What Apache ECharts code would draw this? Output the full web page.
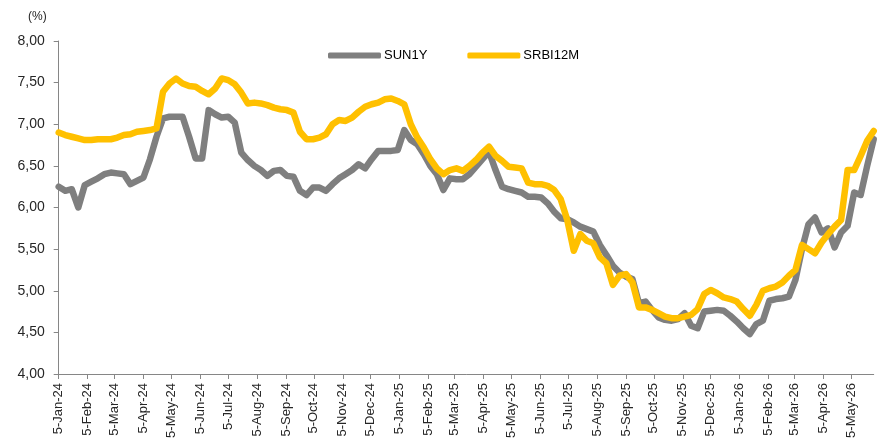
<!DOCTYPE html>
<html>
<head>
<meta charset="utf-8">
<script src="https://cdn.jsdelivr.net/npm/echarts@6.0.0/dist/echarts.min.js"></script>
<style>
html,body{margin:0;padding:0;background:#fff;}
#chart{width:878px;height:448px;}
</style>
</head>
<body>
<div id="chart"></div>
<script>
// Weekly observations (Fridays), first week 5-Jan-2024
const startDate = '2024-01-05';
const seriesNames = ['SUN1Y', 'SRBI12M'];
const sun1y = [
  6.25, 6.20, 6.22, 6.00, 6.27, 6.31, 6.35, 6.40, 6.42, 6.41,
  6.40, 6.28, 6.32, 6.36, 6.58, 6.85, 7.07, 7.09, 7.09, 7.09,
  6.85, 6.59, 6.59, 7.17, 7.12, 7.08, 7.09, 7.02, 6.66, 6.57,
  6.50, 6.45, 6.38, 6.44, 6.45, 6.38, 6.37, 6.20, 6.15, 6.24,
  6.24, 6.20, 6.28, 6.35, 6.40, 6.45, 6.52, 6.47, 6.58, 6.68,
  6.68, 6.68, 6.69, 6.93, 6.81, 6.76, 6.64, 6.50, 6.40, 6.21,
  6.35, 6.34, 6.34, 6.40, 6.49, 6.58, 6.67, 6.45, 6.25, 6.22,
  6.20, 6.18, 6.13, 6.13, 6.12, 6.05, 5.95, 5.87, 5.86, 5.82,
  5.77, 5.74, 5.71, 5.55, 5.43, 5.30, 5.22, 5.17, 5.14, 4.85,
  4.87, 4.77, 4.68, 4.65, 4.64, 4.66, 4.73, 4.58, 4.55, 4.75,
  4.76, 4.77, 4.76, 4.70, 4.63, 4.55, 4.48, 4.60, 4.64, 4.88,
  4.90, 4.91, 4.93, 5.13, 5.50, 5.80, 5.88, 5.70, 5.75, 5.52,
  5.70, 5.78, 6.18, 6.15, 6.50, 6.82
];
const srbi12m = [
  6.90, 6.87, 6.85, 6.83, 6.81, 6.81, 6.82, 6.82, 6.82, 6.84,
  6.87, 6.88, 6.91, 6.92, 6.93, 6.95, 7.39, 7.49, 7.55, 7.49,
  7.46, 7.45, 7.40, 7.36, 7.43, 7.55, 7.53, 7.48, 7.38, 7.25,
  7.26, 7.25, 7.23, 7.20, 7.18, 7.17, 7.14, 6.91, 6.82, 6.82,
  6.84, 6.88, 7.00, 7.05, 7.04, 7.08, 7.15, 7.21, 7.24, 7.26,
  7.30, 7.31, 7.28, 7.24, 7.00, 6.84, 6.72, 6.58, 6.47, 6.40,
  6.45, 6.47, 6.44, 6.50, 6.57, 6.66, 6.73, 6.62, 6.56, 6.49,
  6.48, 6.47, 6.30, 6.28, 6.28, 6.26, 6.21, 6.10, 5.85, 5.48,
  5.68, 5.60, 5.57, 5.40, 5.33, 5.07, 5.18, 5.20, 5.10, 4.80,
  4.80, 4.77, 4.73, 4.69, 4.67, 4.67, 4.69, 4.71, 4.78, 4.96,
  5.01, 4.97, 4.92, 4.90, 4.87, 4.78, 4.70, 4.83, 5.00, 5.03,
  5.05, 5.10, 5.18, 5.25, 5.55, 5.50, 5.45, 5.58, 5.68, 5.77,
  5.85, 6.45, 6.45, 6.62, 6.80, 6.92
];
const tickLabels = [
  '5-Jan-24','5-Feb-24','5-Mar-24','5-Apr-24','5-May-24','5-Jun-24','5-Jul-24',
  '5-Aug-24','5-Sep-24','5-Oct-24','5-Nov-24','5-Dec-24','5-Jan-25','5-Feb-25',
  '5-Mar-25','5-Apr-25','5-May-25','5-Jun-25','5-Jul-25','5-Aug-25','5-Sep-25',
  '5-Oct-25','5-Nov-25','5-Dec-25','5-Jan-26','5-Feb-26','5-Mar-26','5-Apr-26','5-May-26'
];
const yTicks = [4.0, 4.5, 5.0, 5.5, 6.0, 6.5, 7.0, 7.5, 8.0];

const MONTHS = ['Jan','Feb','Mar','Apr','May','Jun','Jul','Aug','Sep','Oct','Nov','Dec'];
const DAY = 86400000;
const sp = startDate.split('-').map(Number);
const t0 = Date.UTC(sp[0], sp[1]-1, sp[2]);
const dates = sun1y.map((_, i) => t0 + i * 7 * DAY);
const tickTimes = tickLabels.map(s => {
  const p = s.split('-');
  return Date.UTC(2000 + Number(p[2]), MONTHS.indexOf(p[1]), Number(p[0]));
});
const labelMap = {};
tickTimes.forEach((t, i) => labelMap[t] = tickLabels[i]);

const chart = echarts.init(document.getElementById('chart'), null, {renderer: 'canvas'});
const FONT = 'Liberation Sans';
const LW = 6.5;
chart.setOption({
  animation: false,
  backgroundColor: '#ffffff',
  title: {
    text: '(%)', left: 23, top: 6,
    textStyle: {fontSize: 12, fontWeight: 'normal', color: '#262626', fontFamily: FONT}
  },
  legend: {
    data: seriesNames,
    left: 323, top: 44,
    icon: 'roundRect',
    itemWidth: 53, itemHeight: 6, itemGap: 40,
    textStyle: {fontSize: 13, color: '#000', fontFamily: FONT, padding: [0, 0, 0, -2]}
  },
  grid: {left: 58.7, right: 4.3, top: 41, bottom: 74, containLabel: false},
  xAxis: {
    type: 'value',
    min: dates[0],
    max: dates[dates.length - 1],
    axisLine: {show: true, lineStyle: {color: '#868686', width: 1}},
    axisTick: {show: true, length: 5, customValues: tickTimes, lineStyle: {color: '#868686'}},
    axisLabel: {
      customValues: tickTimes,
      rotate: 90, margin: 9,
      fontSize: 13, color: '#262626', fontFamily: FONT,
      formatter: v => labelMap[v] || ''
    },
    splitLine: {show: false}
  },
  yAxis: {
    type: 'value',
    min: yTicks[0], max: yTicks[yTicks.length - 1], interval: 0.5,
    axisLine: {show: true, lineStyle: {color: '#868686', width: 1}},
    axisTick: {show: true, length: 5, lineStyle: {color: '#868686'}},
    axisLabel: {
      margin: 14, fontSize: 14, color: '#262626', fontFamily: FONT,
      formatter: v => v.toFixed(2).replace('.', ',')
    },
    splitLine: {show: false}
  },
  series: [
    {
      name: seriesNames[0], type: 'line', symbol: 'none', showSymbol: false,
      data: dates.map((d, i) => [d, sun1y[i]]),
      lineStyle: {color: '#7F7F7F', width: LW, join: 'round', cap: 'round'},
      itemStyle: {color: '#7F7F7F'}
    },
    {
      name: seriesNames[1], type: 'line', symbol: 'none', showSymbol: false,
      data: dates.map((d, i) => [d, srbi12m[i]]),
      lineStyle: {color: '#FFC000', width: LW, join: 'round', cap: 'round'},
      itemStyle: {color: '#FFC000'}
    }
  ]
});
</script>
</body>
</html>
